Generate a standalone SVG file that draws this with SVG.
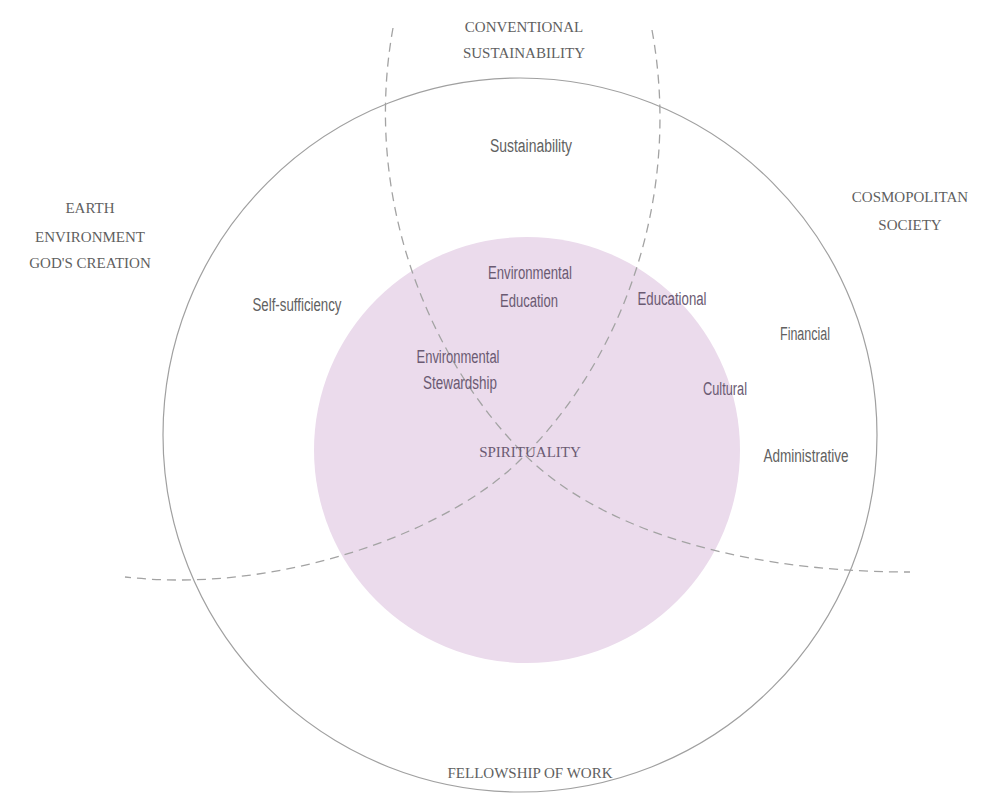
<svg xmlns="http://www.w3.org/2000/svg" width="985" height="799" viewBox="0 0 985 799">
  <style>
    .ring { fill: none; stroke: #a0a0a0; stroke-width: 1.2; }
    .core { fill: #ebdbec; stroke: none; }
    .dash { fill: none; stroke: #a3a3a3; stroke-width: 1.3; stroke-dasharray: 9 6; }
    .cap { font-family: "Liberation Serif", "Times New Roman", serif; font-size: 15px; fill: #5f5f5f; text-anchor: middle; }
    .capin { font-family: "Liberation Serif", "Times New Roman", serif; font-size: 15px; fill: #6a5a72; text-anchor: middle; }
    .lbl { font-family: "Liberation Sans", Arial, sans-serif; font-size: 18px; fill: #616161; text-anchor: middle; }
    .lblin { font-family: "Liberation Sans", Arial, sans-serif; font-size: 18px; fill: #6a5a72; text-anchor: middle; }
  </style>
  <rect width="985" height="799" fill="#ffffff"/>

  <g id="outer-circle">
    <circle class="ring" cx="520" cy="435" r="357"/>
  </g>
  <g id="spirituality-circle">
    <circle class="core" cx="527" cy="450" r="213"/>
  </g>

  <g id="connectors">
    <path class="dash" d="M393,28 C362,200 430,360 525,455 C590,520 720,572 910,572"/>
    <path class="dash" d="M652,30 C683,200 620,360 525,455 C455,530 280,595 125,577"/>
  </g>

  <g id="conventional-sustainability">
    <text class="cap" x="524" y="32">CONVENTIONAL</text>
    <text class="cap" x="524" y="58">SUSTAINABILITY</text>
  </g>
  <g id="earth">
    <text class="cap" x="90" y="213">EARTH</text>
    <text class="cap" x="90" y="242">ENVIRONMENT</text>
    <text class="cap" x="90" y="268">GOD'S CREATION</text>
  </g>
  <g id="cosmopolitan-society">
    <text class="cap" x="910" y="202">COSMOPOLITAN</text>
    <text class="cap" x="910" y="230">SOCIETY</text>
  </g>
  <g id="fellowship-of-work">
    <text class="cap" x="530" y="778">FELLOWSHIP OF WORK</text>
  </g>
  <g id="spirituality">
    <text class="capin" x="530" y="457">SPIRITUALITY</text>
  </g>

  <g id="sustainability">
    <text class="lbl" x="531" y="152" textLength="82" lengthAdjust="spacingAndGlyphs">Sustainability</text>
  </g>
  <g id="self-sufficiency">
    <text class="lbl" x="297" y="311" textLength="89" lengthAdjust="spacingAndGlyphs">Self-sufficiency</text>
  </g>
  <g id="environmental-education">
    <text class="lblin" x="530" y="279" textLength="84" lengthAdjust="spacingAndGlyphs">Environmental</text>
    <text class="lblin" x="529" y="307" textLength="58" lengthAdjust="spacingAndGlyphs">Education</text>
  </g>
  <g id="educational">
    <text class="lblin" x="672" y="305" textLength="69" lengthAdjust="spacingAndGlyphs">Educational</text>
  </g>
  <g id="financial">
    <text class="lbl" x="805" y="340" textLength="50" lengthAdjust="spacingAndGlyphs">Financial</text>
  </g>
  <g id="environmental-stewardship">
    <text class="lblin" x="458" y="363" textLength="83" lengthAdjust="spacingAndGlyphs">Environmental</text>
    <text class="lblin" x="460" y="389" textLength="74" lengthAdjust="spacingAndGlyphs">Stewardship</text>
  </g>
  <g id="cultural">
    <text class="lblin" x="725" y="395" textLength="44" lengthAdjust="spacingAndGlyphs">Cultural</text>
  </g>
  <g id="administrative">
    <text class="lbl" x="806" y="462" textLength="85" lengthAdjust="spacingAndGlyphs">Administrative</text>
  </g>
</svg>
